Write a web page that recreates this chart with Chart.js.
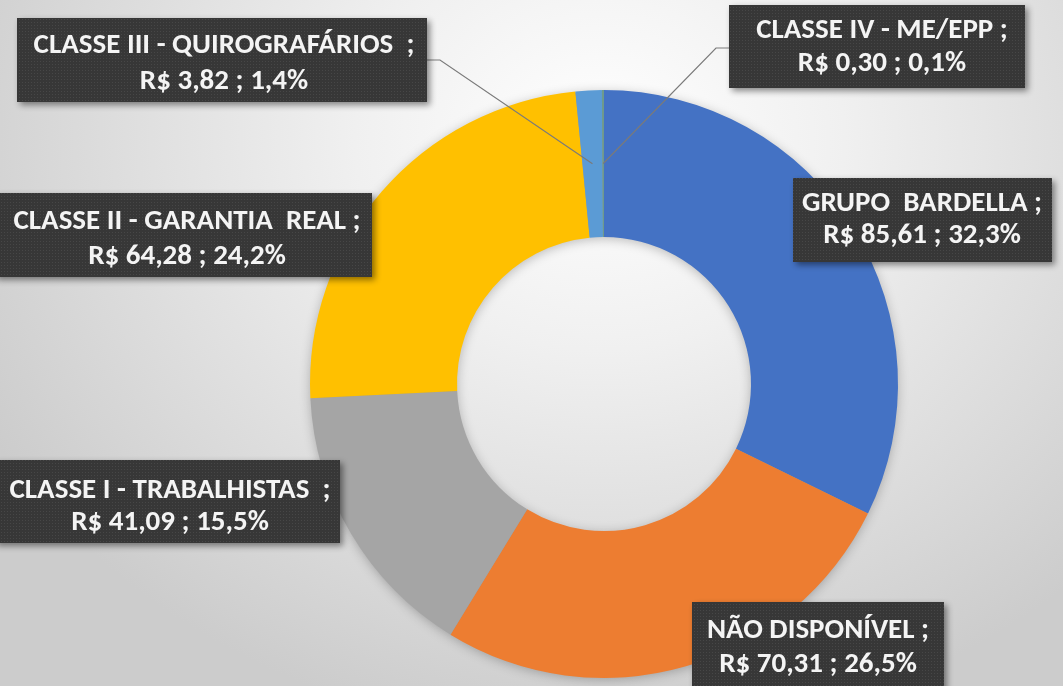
<!DOCTYPE html>
<html>
<head>
<meta charset="utf-8">
<script src="https://cdn.jsdelivr.net/npm/chart.js@4.4.1/dist/chart.umd.min.js"></script>
<style>
html,body{margin:0;padding:0;overflow:hidden;}
body{width:1063px;height:686px;background:radial-gradient(ellipse 700px 600px at 600px 140px,#ffffff 0%,#f0f0f0 35%,#dadada 75%,#cccccc 100%);}
#c{position:absolute;left:0;top:0;}
</style>
</head>
<body>
<canvas id="c" width="1063" height="686"></canvas>
<script>
// ---- data ----
const categories = ['GRUPO  BARDELLA', 'NÃO DISPONÍVEL', 'CLASSE I - TRABALHISTAS ', 'CLASSE II - GARANTIA  REAL', 'CLASSE III - QUIROGRAFÁRIOS ', 'CLASSE IV - ME/EPP'];
const values = [85.61, 70.31, 41.09, 64.28, 3.82, 0.30];
const colors = ['#4472C4', '#ED7D31', '#A5A5A5', '#FFC000', '#5B9BD5', '#6E9A8C'];

// ---- label layout (positions only) ----
const labelBoxes = [
  {x:793, y:178, w:259, h:84, cx:922, l1:204, l2:236},
  {x:692, y:602, w:252, h:100, cx:818, l1:631, l2:665},
  {x:-6, y:460, w:346, h:83, cx:170, l1:491, l2:523},
  {x:-6, y:193, w:378, h:84, cx:187, l1:222, l2:257},
  {x:17, y:18, w:410, h:84, cx:224, l1:46, l2:82, lead:[[427,60],[440,60]]},
  {x:729, y:5, w:296, h:83, cx:882, l1:31, l2:64, lead:[[729,48],[716,48]]}
];

const total = values.reduce((a,b)=>a+b,0);
function fmt(v, d){ return v.toFixed(d).replace('.', ','); }

let dotPattern = null;
function getPattern(ctx){
  if (dotPattern) return dotPattern;
  const p = document.createElement('canvas');
  p.width = 3; p.height = 3;
  const pc = p.getContext('2d');
  pc.fillStyle = '#373737'; pc.fillRect(0,0,3,3);
  pc.fillStyle = '#474747'; pc.fillRect(1,1,1,1);
  dotPattern = ctx.createPattern(p, 'repeat');
  return dotPattern;
}

const ringShadow = {
  id: 'ringShadow',
  beforeDatasetsDraw(chart){
    const meta = chart.getDatasetMeta(0);
    const a = meta.data[0];
    if (!a) return;
    const ctx = chart.ctx;
    ctx.save();
    ctx.shadowColor = 'rgba(0,0,0,0.28)';
    ctx.shadowBlur = 12;
    ctx.shadowOffsetX = 0; ctx.shadowOffsetY = 2;
    ctx.fillStyle = '#999';
    ctx.beginPath();
    ctx.arc(a.x, a.y, a.outerRadius - 1, 0, Math.PI*2);
    ctx.arc(a.x, a.y, a.innerRadius + 1, 0, Math.PI*2, true);
    ctx.fill();
    ctx.restore();
  }
};

const dataLabels = {
  id: 'dataLabels',
  afterDatasetsDraw(chart){
    const ctx = chart.ctx;
    const meta = chart.getDatasetMeta(0);
    ctx.save();
    // leader lines
    meta.data.forEach((arc, i) => {
      const b = labelBoxes[i];
      if (!b.lead) return;
      const p = arc.tooltipPosition(true);
      ctx.strokeStyle = '#7a7a7a';
      ctx.lineWidth = 1.2;
      ctx.beginPath();
      ctx.moveTo(b.lead[0][0], b.lead[0][1]);
      ctx.lineTo(b.lead[1][0], b.lead[1][1]);
      ctx.lineTo(p.x, p.y);
      ctx.stroke();
    });
    meta.data.forEach((arc, i) => {
      const b = labelBoxes[i];
      ctx.save();
      ctx.shadowColor = 'rgba(0,0,0,0.45)';
      ctx.shadowBlur = 6;
      ctx.shadowOffsetX = 3; ctx.shadowOffsetY = 3;
      ctx.fillStyle = getPattern(ctx);
      ctx.fillRect(b.x, b.y, b.w, b.h);
      ctx.restore();
      const v = values[i];
      const pct = v / total * 100;
      const line1 = categories[i] + ' ;';
      const line2 = 'R$ ' + fmt(v, 2) + ' ; ' + fmt(pct, 1) + '%';
      ctx.fillStyle = '#f4f4f4';
      ctx.font = 'bold 29px Carlito, "Liberation Sans Narrow", sans-serif';
      ctx.textAlign = 'center';
      ctx.textBaseline = 'middle';
      ctx.fillText(line1, b.cx, b.l1);
      ctx.fillText(line2, b.cx, b.l2);
    });
    ctx.restore();
  }
};

new Chart(document.getElementById('c'), {
  type: 'doughnut',
  data: {
    labels: categories,
    datasets: [{
      data: values,
      backgroundColor: colors,
      borderWidth: 0,
      hoverOffset: 0,
      offset: 0
    }]
  },
  options: {
    responsive: false,
    animation: false,
    cutout: '50%',
    rotation: 0,
    layout: { padding: { top: 90, bottom: 8, left: 310, right: 165 } },
    plugins: {
      legend: { display: false },
      tooltip: { enabled: false },
      title: { display: false }
    }
  },
  plugins: [ringShadow, dataLabels]
});
</script>
</body>
</html>
